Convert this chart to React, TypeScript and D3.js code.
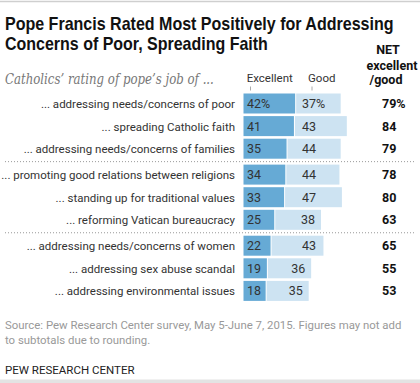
import React, { useLayoutEffect, useRef, useState } from "react";
import * as d3 from "d3";

const categories = [
  "... addressing needs/concerns of poor",
  "... spreading Catholic faith",
  "... addressing needs/concerns of families",
  "... promoting good relations between religions",
  "... standing up for traditional values",
  "... reforming Vatican bureaucracy",
  "... addressing needs/concerns of women",
  "... addressing sex abuse scandal",
  "... addressing environmental issues",
];
const groups = [0, 0, 0, 1, 1, 1, 2, 2, 2];
const excellent = [42, 41, 35, 34, 33, 25, 22, 19, 18];
const good = [37, 43, 44, 44, 47, 38, 43, 36, 35];
const net = [79, 84, 79, 78, 80, 63, 65, 55, 53];

const W = 420;
const H = 383;
const FONT = "Roboto, 'Noto Sans', sans-serif";
const TITLE_FONT = "'Liberation Sans', Arial, sans-serif";

function FitText(props: { x: number; y: number; width: number; children: string; [k: string]: any }) {
  const { x, y, width, children, ...rest } = props;
  const ref = useRef<SVGTextElement>(null);
  const [s, setS] = useState(1);
  useLayoutEffect(() => {
    if (ref.current) {
      const w = ref.current.getComputedTextLength();
      if (w > 0) setS(width / w);
    }
  }, [width, children]);
  return (
    <text ref={ref} transform={`translate(${x},${y}) scale(${s},1)`} {...rest}>
      {children}
    </text>
  );
}

export default function App() {
  const x = d3.scaleLinear().domain([0, 100]).range([0, 123]);
  const x0 = 243.5;
  const y = (i: number) => 93.5 + i * 22.6 + groups[i] * 3.3;
  const barH = 20;
  const sepYs = [1, 2].map((g) => {
    const first = groups.indexOf(g);
    return (y(first - 1) + barH + y(first)) / 2;
  });

  return (
    <svg width={W} height={H} style={{ position: "absolute", left: 0, top: 0 }}>
      <rect x={0} y={0} width={W} height={H} fill="#fff" />
      <line x1={0} x2={W} y1={1.5} y2={1.5} stroke="#cfcfcf" strokeWidth={1.5} />
      <FitText x={5} y={29.5} width={389} fontFamily={TITLE_FONT} fontWeight={700} fontSize={17.5} fill="#111">
        Pope Francis Rated Most Positively for Addressing
      </FitText>
      <FitText x={5} y={50} width={263} fontFamily={TITLE_FONT} fontWeight={700} fontSize={17.5} fill="#111">
        Concerns of Poor, Spreading Faith
      </FitText>
      <FitText x={5} y={84} width={209} fontFamily="'DejaVu Serif', 'Liberation Serif', serif" fontStyle="italic" fontSize={14.5} fill="#777">
        Catholics’ rating of pope’s job of ...
      </FitText>

      <g fontFamily={FONT} fontWeight={700} fontSize={12.5} fill="#111" textAnchor="middle">
        <text x={388} y={54}>NET</text>
        <text x={392} y={69.5}>excellent</text>
        <text x={386} y={84}>/good</text>
      </g>

      <g fontFamily={FONT} fontSize={11.5} fill="#333">
        <text x={246.7} y={82}>Excellent</text>
        <text x={308} y={82}>Good</text>
      </g>
      <line x1={250.5} x2={250.5} y1={86.5} y2={90.5} stroke="#aaa" />
      <line x1={312} x2={312} y1={86.5} y2={90.5} stroke="#aaa" />

      {sepYs.map((sy, k) => (
        <line key={k} x1={5} x2={415} y1={sy} y2={sy} stroke="#999" strokeDasharray="1,2" />
      ))}

      {categories.map((c, i) => {
        const yy = y(i);
        const ex = x(excellent[i]);
        const gw = x(good[i]);
        const gEnd = x0 + ex + gw;
        const gLabelX = Math.min(302, gEnd - 20);
        return (
          <g key={c}>
            <rect x={x0} y={yy} width={ex} height={barH} fill="#66aad5" />
            <rect x={x0 + ex + 1} y={yy} width={gw - 1} height={barH} fill="#cde3f2" />
            <text x={235} y={yy + 14.5} textAnchor="end" fontFamily={FONT} fontSize={11.5} fill="#333">
              {c}
            </text>
            <text x={x0 + 3.5} y={yy + 14.5} fontFamily={FONT} fontSize={12.5} fill="#333">
              {excellent[i] + (i === 0 ? "%" : "")}
            </text>
            <text x={gLabelX} y={yy + 14.5} fontFamily={FONT} fontSize={12.5} fill="#333">
              {good[i] + (i === 0 ? "%" : "")}
            </text>
            <text x={382} y={yy + 14.5} fontFamily={FONT} fontWeight={700} fontSize={12.5} fill="#111">
              {net[i] + (i === 0 ? "%" : "")}
            </text>
          </g>
        );
      })}

      <g fontFamily={FONT} fontSize={11.4} fill="#999">
        <text x={5} y={328.5}>
          Source: Pew Research Center survey, May 5-June 7, 2015. Figures may not add
        </text>
        <text x={5} y={343.5}>to subtotals due to rounding.</text>
      </g>
      <text x={5} y={374} fontFamily={FONT} fontSize={11.5} fill="#222">
        PEW RESEARCH CENTER
      </text>
      <rect x={0} y={379.5} width={W} height={3.5} fill="#e3e3e3" />
    </svg>
  );
}
